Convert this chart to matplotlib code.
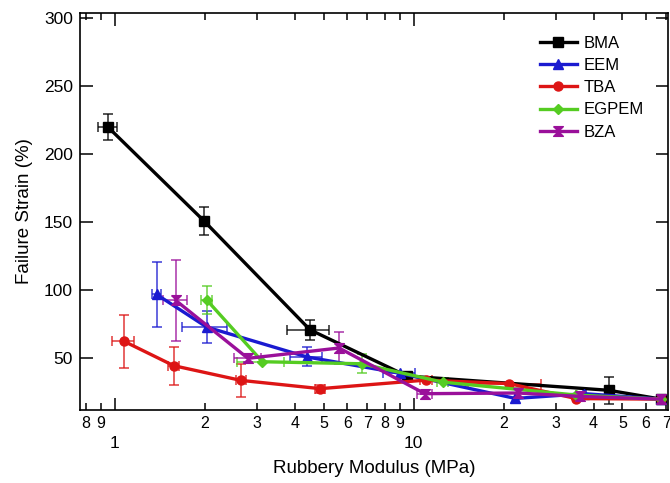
import numpy as np
import matplotlib
matplotlib.use('Agg')
import matplotlib.pyplot as plt
from matplotlib.ticker import FixedLocator, FixedFormatter

plt.rcParams['font.family'] = ['Liberation Sans', 'DejaVu Sans']

# data (modulus in MPa, strain in %)
BMA_x = [0.95, 1.99, 4.5, 9.5, 45.0, 67.3]
BMA_y = [220, 151, 71, 37, 26.5, 20]
BMA_xerr = [0.07, 0.0, 0.73, 0.0, 0.0, 0.0]
BMA_yerr = [9.5, 10, 7.5, 0, 10, 0]

EEM_x = [1.38, 2.03, 4.4, 9.0, 21.9, 37.3, 67.3]
EEM_y = [97, 73, 51, 39, 20.5, 24, 20]
EEM_xerr = [0.05, 0.35, 0.55, 1.1, 0, 0.5, 0]
EEM_yerr = [24, 12, 7, 0, 0, 0, 0]

TBA_x = [1.07, 1.575, 2.64, 4.87, 11.0, 20.9, 35.0, 67.3]
TBA_y = [62.7, 44.6, 33.8, 27.7, 34, 31.4, 20.4, 20]
TBA_xerr = [0.09, 0.07, 0.1, 0.2, 0.5, 5.7, 0, 0]
TBA_yerr = [19.5, 14, 12, 3, 0, 0, 0, 0]

EGPEM_x = [2.03, 3.12, 6.7, 12.5, 35.0, 67.3]
EGPEM_y = [93, 47.5, 46, 32.5, 23, 20]
EGPEM_xerr = [0.09, 0.55, 0, 0.5, 0, 0]
EGPEM_yerr = [10.5, 0, 7, 0, 0, 0]

BZA_x = [1.6, 2.79, 5.63, 10.9, 22.3, 36.0, 67.3]
BZA_y = [92.6, 50, 57.6, 24, 24.5, 22, 20]
BZA_xerr = [0.15, 0.29, 0, 0.6, 0, 0, 0]
BZA_yerr = [30, 3, 12, 0, 4, 0, 0]

names = ['BMA', 'EEM', 'TBA', 'EGPEM', 'BZA']
xs = [BMA_x, EEM_x, TBA_x, EGPEM_x, BZA_x]
ys = [BMA_y, EEM_y, TBA_y, EGPEM_y, BZA_y]
xerrs = [BMA_xerr, EEM_xerr, TBA_xerr, EGPEM_xerr, BZA_xerr]
yerrs = [BMA_yerr, EEM_yerr, TBA_yerr, EGPEM_yerr, BZA_yerr]
colors = ['black', '#1a1ad0', '#dd1515', '#55cc22', '#9a109a']
hourglass = [(-1, 1), (1, 1), (-1, -1), (1, -1), (-1, 1)]
markers = ['s', '^', 'o', 'D', hourglass]
msizes = [6.5, 6.5, 6.5, 5, 7]

fig = plt.figure(figsize=(6.7, 4.83), dpi=100)
ax = fig.add_axes([80/670., 1-410/483., 588/670., 397/483.])

handles = []
for i in range(len(names)):
    ax.errorbar(xs[i], ys[i], xerr=xerrs[i], yerr=yerrs[i], fmt='none',
                ecolor=colors[i], elinewidth=1.1, capsize=3.5, capthick=1.1, alpha=0.85, zorder=2)
    l, = ax.plot(xs[i], ys[i], color=colors[i], lw=2.4, marker=markers[i],
                 ms=msizes[i], mec=colors[i], mfc=colors[i], label=names[i], zorder=3)
    handles.append(l)

ax.set_xscale('log')
ax.set_xlim(0.765, 71)
ax.set_ylim(12, 304)

ax.xaxis.set_major_locator(FixedLocator([1, 10]))
ax.xaxis.set_major_formatter(FixedFormatter(['1', '10']))
minor = [0.8, 0.9] + [2, 3, 4, 5, 6, 7, 8, 9] + [20, 30, 40, 50, 60, 70]
minor_lab = ['8', '9'] + [str(v) for v in range(2, 10)] + [str(v) for v in range(2, 8)]
ax.xaxis.set_minor_locator(FixedLocator(minor))
ax.xaxis.set_minor_formatter(FixedFormatter(minor_lab))
ax.set_yticks([50, 100, 150, 200, 250, 300])

ax.tick_params(axis='both', which='both', direction='in', top=True, right=True, width=1.1)
ax.tick_params(axis='x', which='major', length=9, pad=19, labelsize=12.5)
ax.tick_params(axis='x', which='minor', length=5, pad=4, labelsize=11.5)
ax.tick_params(axis='y', which='major', length=9, pad=5, labelsize=12.5)
for s in ax.spines.values():
    s.set_linewidth(1.2)

ax.set_xlabel('Rubbery Modulus (MPa)', fontsize=13.5, labelpad=6)
ax.set_ylabel('Failure Strain (%)', fontsize=13.5, labelpad=8)

ax.legend(handles=handles, loc='upper left', bbox_to_anchor=(540/670., 1-36/483.),
          bbox_transform=fig.transFigure, frameon=False, fontsize=12,
          handlelength=2.2, handletextpad=0.4, labelspacing=0.43, borderpad=0, borderaxespad=0)

plt.savefig('out.png', dpi=100)
